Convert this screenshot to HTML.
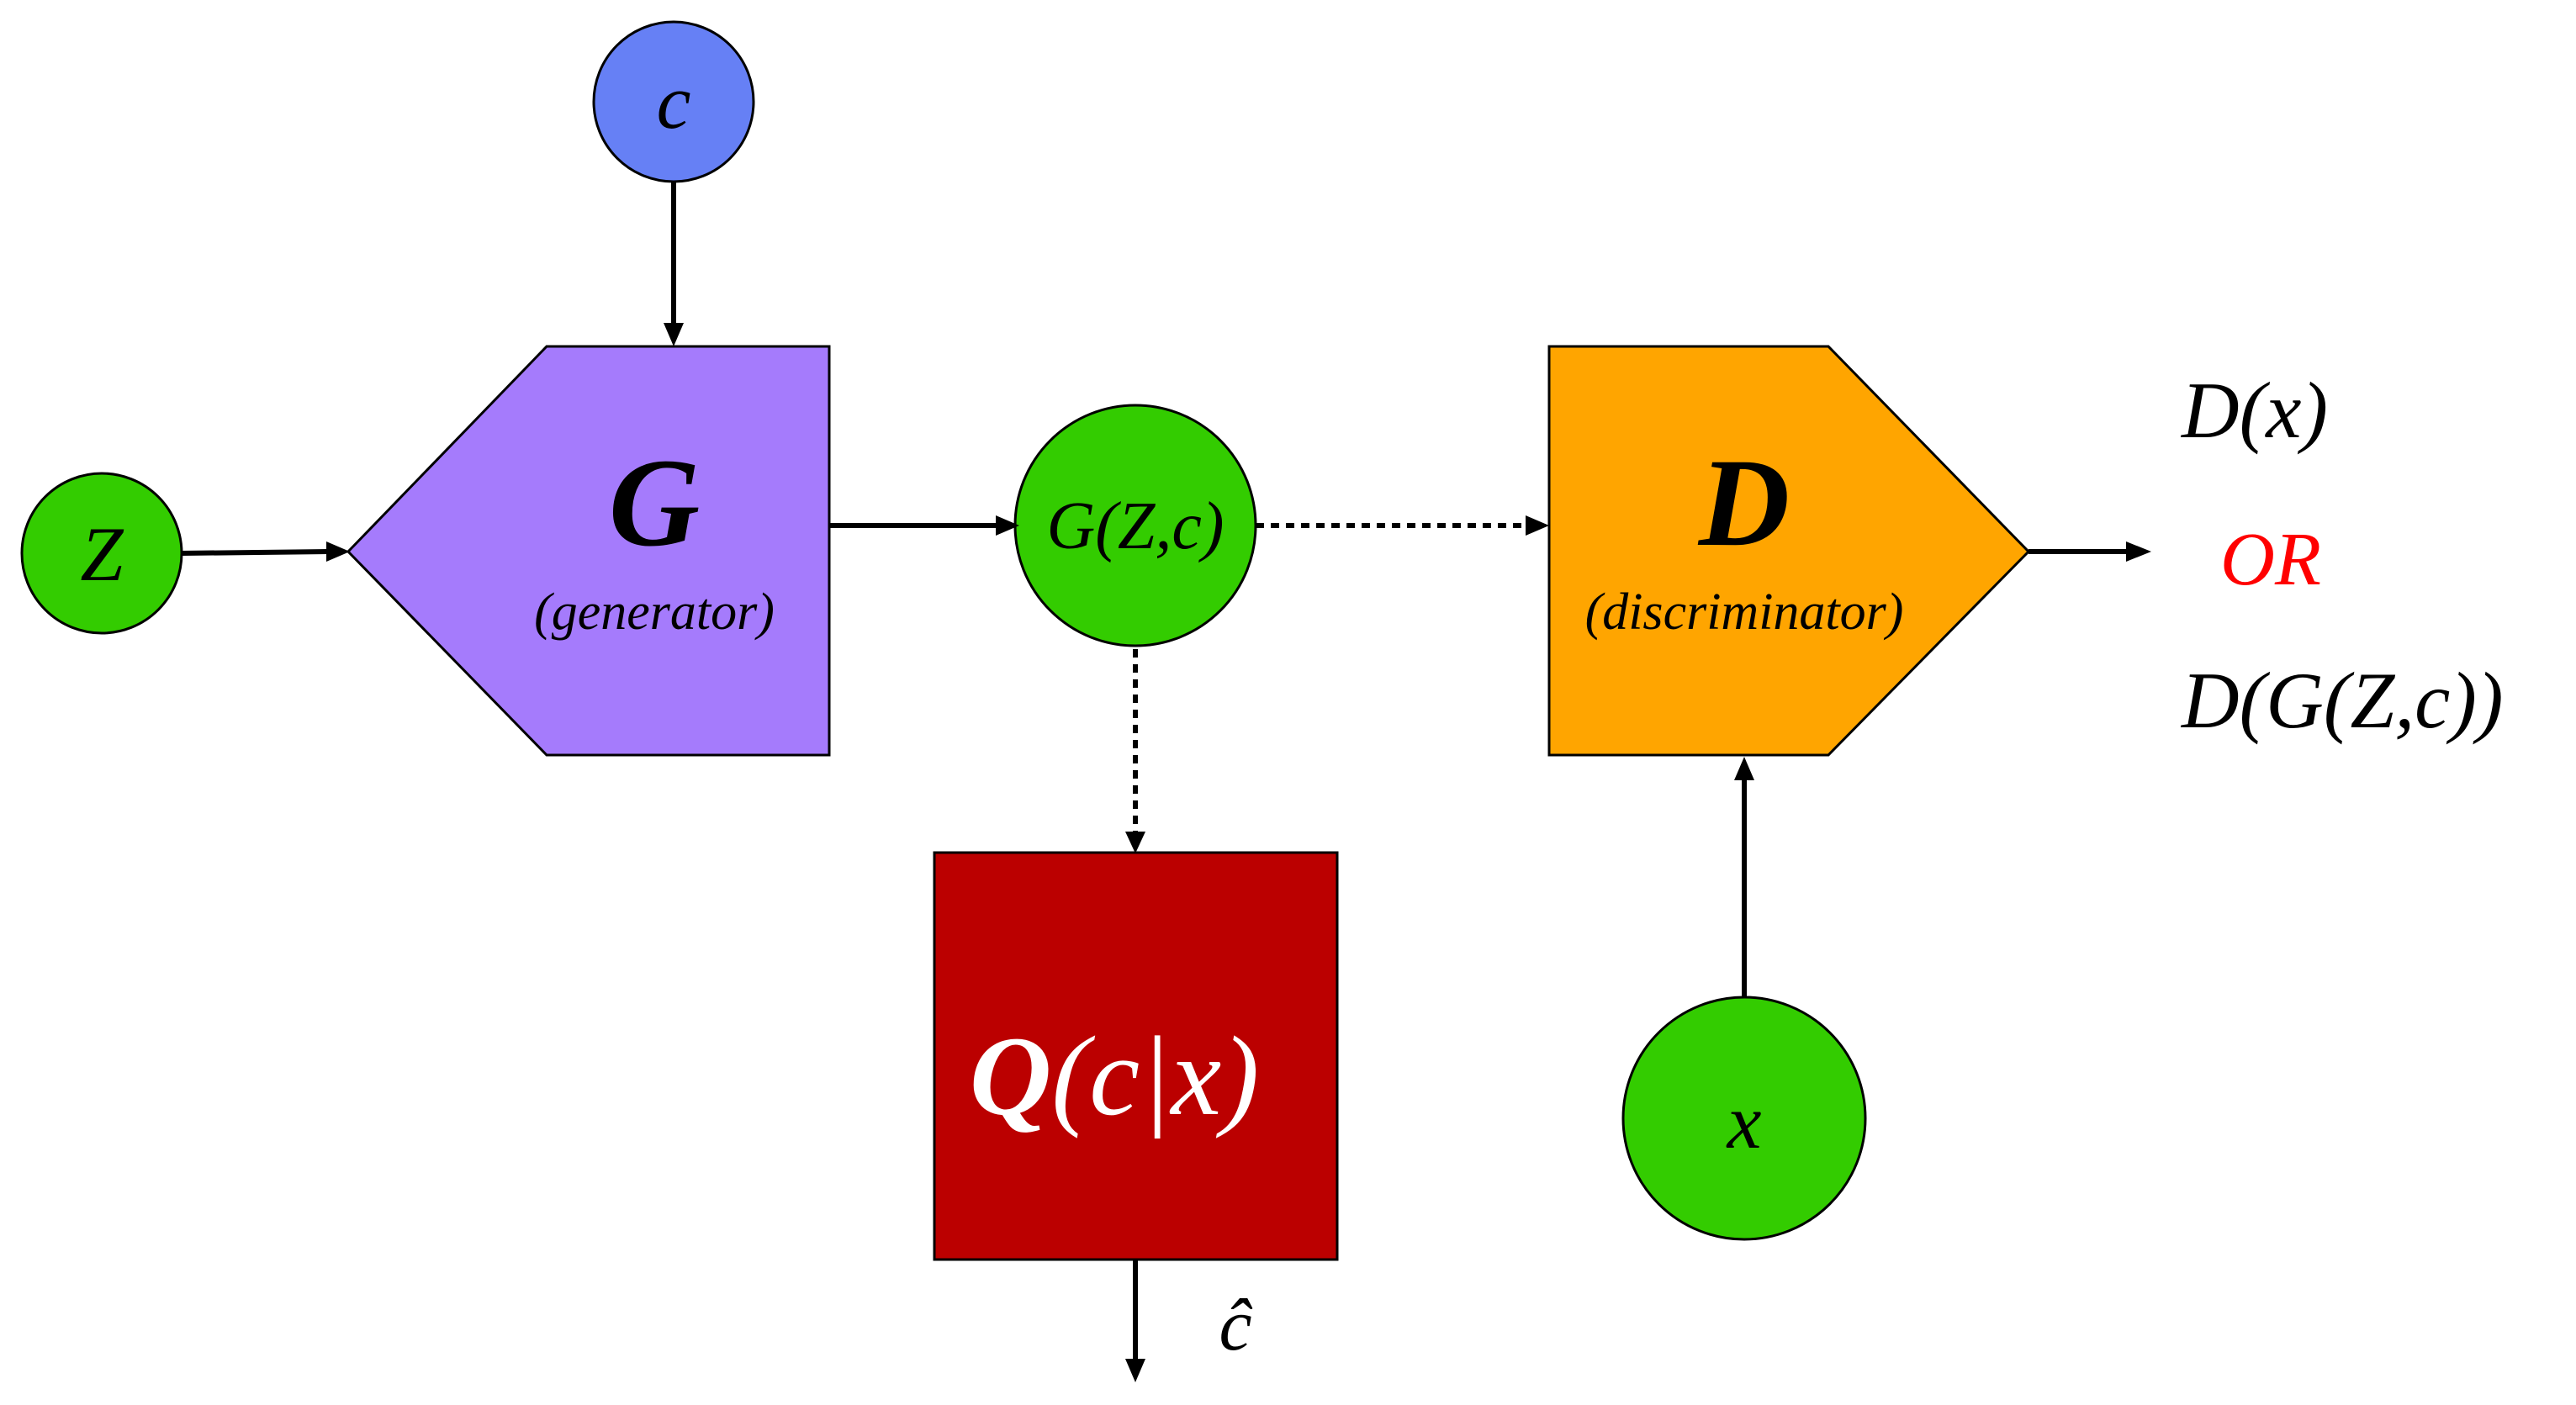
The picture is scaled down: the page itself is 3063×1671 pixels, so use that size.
<!DOCTYPE html>
<html><head><meta charset="utf-8"><style>
html,body{margin:0;padding:0;background:#fff;}
svg{display:block;}
text{font-family:"Liberation Serif",serif;font-style:italic;}
</style></head><body>
<svg width="3063" height="1671" viewBox="0 0 3063 1671" xmlns="http://www.w3.org/2000/svg">
<defs>
<marker id="ah" markerWidth="10" markerHeight="10" refX="9" refY="5" orient="auto" markerUnits="userSpaceOnUse" viewBox="0 0 10 10">
</marker>
</defs>
<!-- shapes -->
<circle cx="801" cy="121" r="95" fill="#6680F5" stroke="#000" stroke-width="3"/>
<circle cx="121" cy="658" r="95" fill="#33CC00" stroke="#000" stroke-width="3"/>
<polygon points="414,656 650,412 986,412 986,898 650,898" fill="#A57BFC" stroke="#000" stroke-width="3"/>
<circle cx="1350" cy="625" r="143" fill="#33CC00" stroke="#000" stroke-width="3"/>
<polygon points="1842,412 2174,412 2412,656 2174,898 1842,898" fill="#FFA500" stroke="#000" stroke-width="3"/>
<circle cx="2074" cy="1330" r="144" fill="#33CC00" stroke="#000" stroke-width="3"/>
<rect x="1111" y="1014" width="479" height="484" fill="#BB0000" stroke="#000" stroke-width="3"/>

<!-- connectors -->
<g stroke="#000" stroke-width="6" fill="none">
<line x1="801" y1="217" x2="801" y2="385"/>
<line x1="216" y1="658" x2="390" y2="656"/>
<line x1="986" y1="625" x2="1185" y2="625"/>
<line x1="1493" y1="625" x2="1815" y2="625" stroke-dasharray="10,8"/>
<line x1="1350" y1="772" x2="1350" y2="990" stroke-dasharray="10,8"/>
<line x1="2074" y1="1186" x2="2074" y2="925"/>
<line x1="2412" y1="656" x2="2530" y2="656"/>
<line x1="1350" y1="1498" x2="1350" y2="1618"/>
</g>
<g fill="#000">
<polygon points="789,384 813,384 801,412"/>
<polygon points="388,644 388,668 416,656"/>
<polygon points="1184,613 1184,637 1212,625"/>
<polygon points="1814,613 1814,637 1842,625"/>
<polygon points="1338,989 1362,989 1350,1015"/>
<polygon points="2062,928 2086,928 2074,900"/>
<polygon points="2528,644 2528,668 2558,656"/>
<polygon points="1338,1616 1362,1616 1350,1644"/>
</g>

<!-- labels -->
<text x="801" y="152" font-size="92" text-anchor="middle">c</text>
<text x="121" y="690" font-size="92" text-anchor="middle">Z</text>
<text x="778" y="648" font-size="150" font-weight="bold" text-anchor="middle">G</text>
<text x="778" y="748" font-size="62" text-anchor="middle">(generator)</text>
<text x="1350" y="652" font-size="80" text-anchor="middle">G(Z,c)</text>
<text x="2074" y="648" font-size="150" font-weight="bold" text-anchor="middle">D</text>
<text x="2074" y="748" font-size="62" text-anchor="middle">(discriminator)</text>
<text x="2074" y="1365" font-size="92" text-anchor="middle">x</text>
<text x="1325" y="1325" font-size="135" fill="#fff" text-anchor="middle"><tspan font-weight="bold">Q</tspan>(c|x)</text>
<text x="1469" y="1605" font-size="88" text-anchor="middle">ĉ</text>
<text x="2594" y="520" font-size="95">D(x)</text>
<text x="2640" y="695" font-size="90" fill="#FF0000">OR</text>
<text x="2594" y="865" font-size="95">D(G(Z,c))</text>
</svg>
</body></html>
